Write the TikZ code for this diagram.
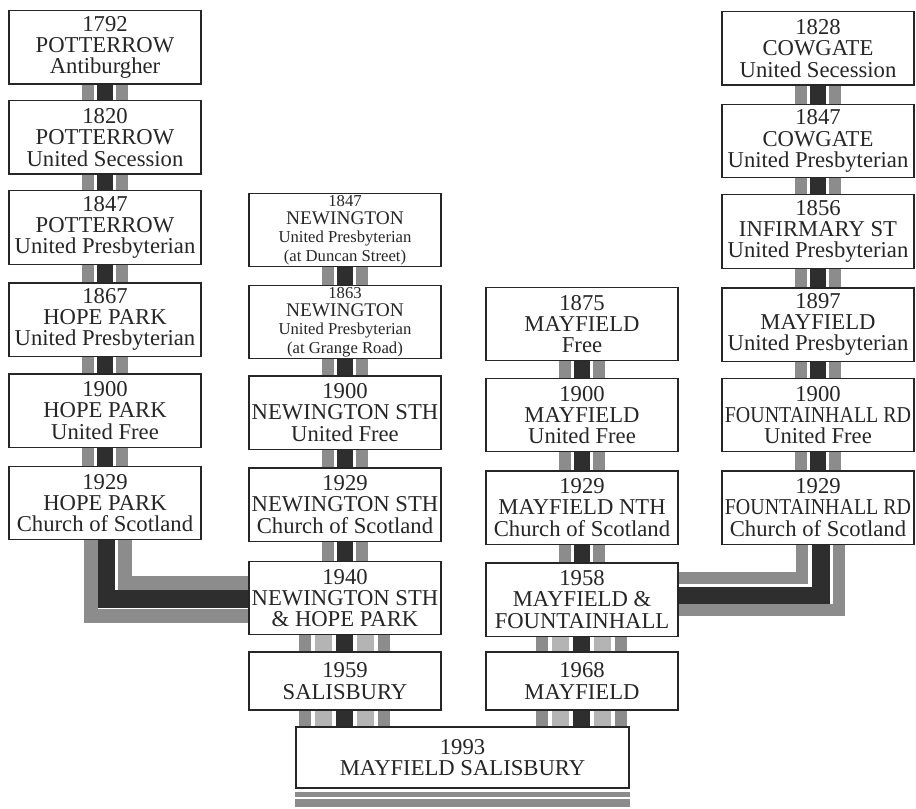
\documentclass[tikz,border=0pt]{standalone}
\usepackage{fontspec}
\setmainfont{Liberation Serif}
\usetikzlibrary{calc,backgrounds}
\definecolor{bandgray}{HTML}{8C8C8C}
\definecolor{bandlight}{HTML}{B4B4B4}
\definecolor{banddark}{HTML}{2E2E2E}
% one stripe of a band, from the foot of #2 to the head of #3
\newcommand\stripe[5]{\fill[#1] ($(#2.south)+(#4,0)$) rectangle ($(#2.south |- #3.north)+(#5,0)$);}
\newcommand\threelink[2]{%
    \stripe{bandgray}{#1}{#2}{-23}{-11}\stripe{banddark}{#1}{#2}{-8}{8}\stripe{bandgray}{#1}{#2}{11}{23}}
\newcommand\fivelink[2]{%
    \stripe{bandgray}{#1}{#2}{-46}{-34}\stripe{bandlight}{#1}{#2}{-30}{-13}%
    \stripe{banddark}{#1}{#2}{-9}{8}%
    \stripe{bandlight}{#1}{#2}{12}{29}\stripe{bandgray}{#1}{#2}{33}{45}}
\newcommand\bigline[1]{{\fontsize{14.5}{13.8}\selectfont #1}}
\begin{document}
\begin{tikzpicture}[x=0.75pt,y=-0.75pt,
        box/.style={draw=black!85, line width=1pt, fill=white, text=black!85,
            minimum width=144pt, minimum height=55pt, inner sep=0pt, align=center,
            font=\fontsize{17}{16}\selectfont},
        small/.style={font=\fontsize{12.5}{13.8}\selectfont},
        low/.style={minimum height=43.5pt},
        ]
    \path[use as bounding box] (0,0) rectangle (916,809);
    % Potterrow / Hope Park
    \node[box] (p1792) at (105,47.5) {1792\\POTTERROW\\Antiburgher};
    \node[box] (p1820) at (105,137.5) {1820\\POTTERROW\\United Secession};
    \node[box] (p1847) at (105,227.5) {1847\\POTTERROW\\United Presbyterian};
    \node[box] (h1867) at (105,319.5) {1867\\HOPE PARK\\United Presbyterian};
    \node[box] (h1900) at (105,410.5) {1900\\HOPE PARK\\United Free};
    \node[box] (h1929) at (105,503) {1929\\HOPE PARK\\Church of Scotland};
    % Newington
    \node[box,small] (n1847) at (345,230) {1847\\\bigline{NEWINGTON}\\United Presbyterian\\(at Duncan Street)};
    \node[box,small] (n1863) at (345,322) {1863\\\bigline{NEWINGTON}\\United Presbyterian\\(at Grange Road)};
    \node[box] (n1900) at (345,412.5) {1900\\NEWINGTON STH\\United Free};
    \node[box] (n1929) at (345,504.5) {1929\\NEWINGTON STH\\Church of Scotland};
    \node[box] (n1940) at (345,598) {1940\\NEWINGTON STH\\\& HOPE PARK};
    \node[box,low] (s1959) at (345,681) {1959\\SALISBURY};
    % Mayfield
    \node[box] (m1875) at (582,324) {1875\\MAYFIELD\\Free};
    \node[box] (m1900) at (582,415) {1900\\MAYFIELD\\United Free};
    \node[box] (m1929) at (582,507.5) {1929\\MAYFIELD NTH\\Church of Scotland};
    \node[box] (m1958) at (582,599.5) {1958\\MAYFIELD \&\\FOUNTAINHALL};
    \node[box,low] (m1968) at (582,681) {1968\\MAYFIELD};
    % Cowgate / Fountainhall Rd
    \node[box] (c1828) at (818,48.5) {1828\\COWGATE\\United Secession};
    \node[box] (c1847) at (818,141) {1847\\COWGATE\\United Presbyterian};
    \node[box] (i1856) at (818,231.5) {1856\\INFIRMARY ST\\United Presbyterian};
    \node[box] (m1897) at (818,324.5) {1897\\MAYFIELD\\United Presbyterian};
    \node[box] (f1900) at (818,415) {1900\\\scalebox{0.88}[1]{FOUNTAINHALL RD}\\United Free};
    \node[box] (f1929) at (818,507.5) {1929\\\scalebox{0.88}[1]{FOUNTAINHALL RD}\\Church of Scotland};
    \node[box,minimum width=249.75pt,minimum height=45.75pt] (ms1993) at (462.5,757.5) {1993\\MAYFIELD SALISBURY};

    \begin{scope}[on background layer]
        \fill[white] (0,0) rectangle (916,809);
        \threelink{p1792}{p1820}
        \threelink{p1820}{p1847}
        \threelink{p1847}{h1867}
        \threelink{h1867}{h1900}
        \threelink{h1900}{h1929}
        \threelink{n1847}{n1863}
        \threelink{n1863}{n1900}
        \threelink{n1900}{n1929}
        \threelink{n1929}{n1940}
        \threelink{m1875}{m1900}
        \threelink{m1900}{m1929}
        \threelink{m1929}{m1958}
        \threelink{c1828}{c1847}
        \threelink{c1847}{i1856}
        \threelink{i1856}{m1897}
        \threelink{m1897}{f1900}
        \threelink{f1900}{f1929}
        \fivelink{n1940}{s1959}
        \fivelink{s1959}{ms1993}
        \fivelink{m1958}{m1968}
        \fivelink{m1968}{ms1993}
        % bends into the unions
        \draw[bandgray,line width=11] ($(h1929.south)+(20,0)$) |- ($(n1940.west)+(0,-15)$);
        \draw[banddark,line width=14] ($(h1929.south)+(1,0)$) |- ($(n1940.west)+(0,1)$);
        \draw[bandgray,line width=11] ($(h1929.south)+(-14,0)$) |- ($(n1940.west)+(0,18)$);
        \draw[bandgray,line width=9] ($(f1929.south)+(-16,0)$) |- ($(m1958.east)+(0,-21.5)$);
        \draw[banddark,line width=14] ($(f1929.south)+(3,0)$) |- ($(m1958.east)+(0,-3.5)$);
        \draw[bandgray,line width=9] ($(f1929.south)+(21,0)$) |- ($(m1958.east)+(0,10.5)$);
    \end{scope}
    \draw[bandgray,line width=4] ($(ms1993.south west)+(0,6)$) -- ($(ms1993.south east)+(0,6)$);
    \draw[bandgray,line width=6] ($(ms1993.south west)+(0,14)$) -- ($(ms1993.south east)+(0,14)$);
\end{tikzpicture}
\end{document}
